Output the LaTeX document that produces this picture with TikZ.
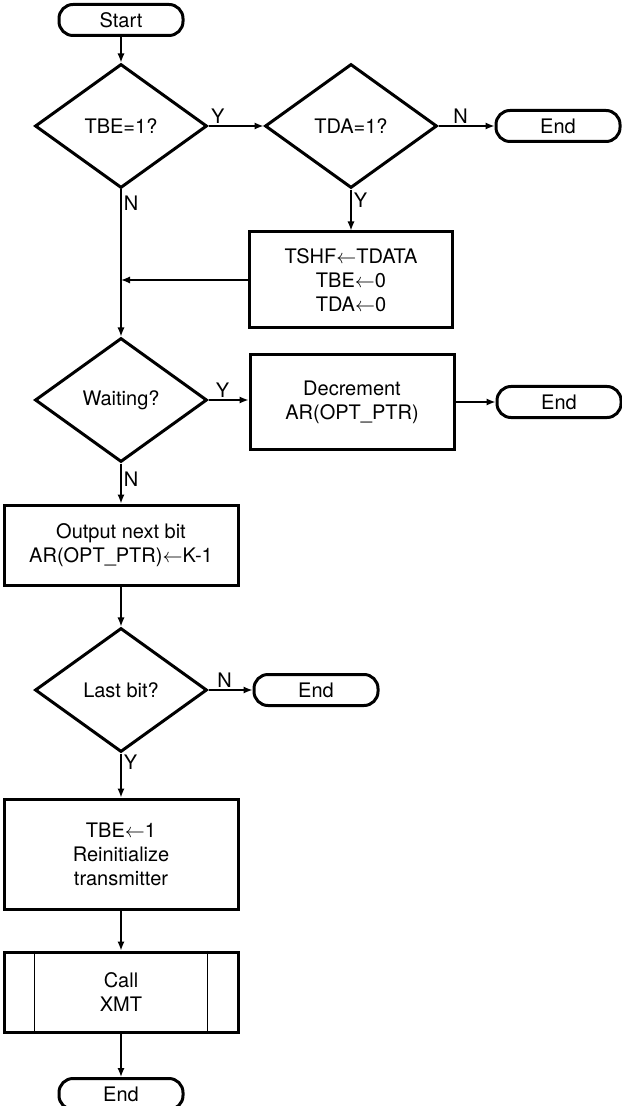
\documentclass[tikz,border=0pt]{standalone}
\usepackage{fontspec}
\setmainfont{TeX Gyre Heros}
\usetikzlibrary{shapes.geometric,arrows.meta}
\newcommand{\getsarrow}{$\leftarrow$}

\begin{document}
\begin{tikzpicture}
  [x=0.5pt,y=-0.5pt,font=\fontsize{10}{12}\selectfont,
   term/.style={draw,line width=1.5pt,rounded corners=7pt,minimum width=62pt,minimum height=15.5pt,inner sep=0pt},
   test/.style={draw,diamond,line width=1.5pt,minimum width=86pt,minimum height=62pt,inner sep=0pt},
   proc/.style={draw,rectangle,line width=1.5pt,align=center,inner sep=0pt},
   lbl/.style={inner sep=1pt},
   flow/.style={line width=0.8pt,-{Latex[length=4.5pt,width=3.6pt]}}]
  \useasboundingbox (0,0) rectangle (621,1106);

  \node[term] (n1) at (121,20)   {Start};
  \node[test] (n2) at (121,126)  {TBE=1?};
  \node[test] (n3) at (351,126)  {TDA=1?};
  \node[term] (n4) at (558,126)  {End};
  \node[proc,minimum width=101.5pt,minimum height=48pt] (n5) at (351,280)
     {TSHF\getsarrow TDATA\\TBE\getsarrow 0\\TDA\getsarrow 0};
  \node[test] (n6) at (121,400)  {Waiting?};
  \node[proc,minimum width=102pt,minimum height=47.5pt] (n7) at (352,402)
     {Decrement\\AR(OPT\_PTR)};
  \node[term] (n8) at (559,402)  {End};
  \node[proc,minimum width=117pt,minimum height=40pt] (n9) at (121,545)
     {Output next bit\\AR(OPT\_PTR)\getsarrow K-1};
  \node[test] (n10) at (121,690) {Last bit?};
  \node[term] (n11) at (316,690) {End};
  \node[proc,minimum width=117pt,minimum height=55pt] (n12) at (121,854)
     {TBE\getsarrow 1\\Reinitialize\\transmitter};
  \node[proc,minimum width=117pt,minimum height=40pt] (n13) at (121,992)
     {Call\\XMT};
  \node[term] (n14) at (121,1094) {End};

  % side bars of the call box
  \draw[line width=0.8pt] ([xshift=16pt]n13.north west) -- ([xshift=16pt]n13.south west);
  \draw[line width=0.8pt] ([xshift=-16pt]n13.north east) -- ([xshift=-16pt]n13.south east);

  \foreach \from/\to in {n1/n2,n3/n4,n7/n8,n9/n10,n10/n11,n12/n13,n13/n14}
    \draw[flow] (\from) -- (\to);

  \draw[flow] (n2) -- node[lbl,above,pos=0.17] (l1) {Y} (n3);
  \draw[flow] (n3) -- node[lbl,right,pos=0.25] (l2) {Y} (n5);
  \draw[flow] (n2) -- node[lbl,right,pos=0.09] (l3) {N} (n6);
  \draw[flow] (n5.west) -- (n5.west -| n2);
  \draw[flow] (n6) -- node[lbl,above,pos=0.35] (l4) {Y} (n6 -| n7.west);
  \draw[flow] (n6) -- node[lbl,right,pos=0.4] (l5) {N} (n9);
  \draw[flow] (n10) -- node[lbl,right,pos=0.2] (l6) {Y} (n12);
  \node[lbl,above] (l7) at ([xshift=11pt]n3.east) {N};
  \node[lbl,above] (l8) at ([xshift=8pt]n10.east) {N};
\end{tikzpicture}
\end{document}
